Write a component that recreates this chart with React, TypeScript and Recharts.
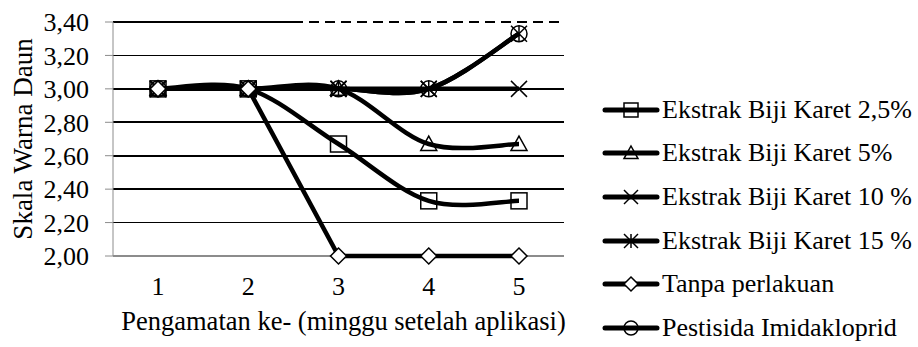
import React from 'react';
import { LineChart, Line, XAxis, YAxis, CartesianGrid } from 'recharts';

const weeks = ['1', '2', '3', '4', '5'];
const ekstrak25 = [3.0, 3.0, 2.67, 2.33, 2.33];
const ekstrak5 = [3.0, 3.0, 3.0, 2.67, 2.67];
const ekstrak10 = [3.0, 3.0, 3.0, 3.0, 3.0];
const ekstrak15 = [3.0, 3.0, 3.0, 3.0, 3.33];
const tanpa = [3.0, 3.0, 2.0, 2.0, 2.0];
const pestisida = [3.0, 3.0, 3.0, 3.0, 3.33];
const yTicks = [2.0, 2.2, 2.4, 2.6, 2.8, 3.0, 3.2, 3.4];

type MarkerKind = 'square' | 'triangle' | 'cross' | 'star' | 'diamond' | 'circle';

const seriesList: { key: string; name: string; marker: MarkerKind; smooth: boolean; values: number[] }[] = [
  { key: 'e25', name: 'Ekstrak Biji Karet 2,5%', marker: 'square', smooth: true, values: ekstrak25 },
  { key: 'e5', name: 'Ekstrak Biji Karet 5%', marker: 'triangle', smooth: true, values: ekstrak5 },
  { key: 'e10', name: 'Ekstrak Biji Karet 10 %', marker: 'cross', smooth: true, values: ekstrak10 },
  { key: 'e15', name: 'Ekstrak Biji Karet 15 %', marker: 'star', smooth: true, values: ekstrak15 },
  { key: 'tanpa', name: 'Tanpa perlakuan', marker: 'diamond', smooth: false, values: tanpa },
  { key: 'pest', name: 'Pestisida Imidakloprid', marker: 'circle', smooth: true, values: pestisida },
];

const data = weeks.map((week, i) => {
  const row: Record<string, string | number> = { week };
  seriesList.forEach(s => { row[s.key] = s.values[i]; });
  return row;
});

const FONT = '"Liberation Serif", "Times New Roman", serif';
const AXIS_GREY = '#8c8c8c';

// Catmull-Rom style smoothing (same feel as office "smoothed line")
const smoothCurve = (context: any) => {
  let pts: [number, number][] = [];
  return {
    areaStart() {},
    areaEnd() {},
    lineStart() { pts = []; },
    point(x: number, y: number) { pts.push([x, y]); },
    lineEnd() {
      if (!pts.length) return;
      context.moveTo(pts[0][0], pts[0][1]);
      for (let i = 0; i < pts.length - 1; i++) {
        const p0 = pts[i - 1] || pts[i];
        const p1 = pts[i];
        const p2 = pts[i + 1];
        const p3 = pts[i + 2] || p2;
        context.bezierCurveTo(
          p1[0] + (p2[0] - p0[0]) / 6, p1[1] + (p2[1] - p0[1]) / 6,
          p2[0] - (p3[0] - p1[0]) / 6, p2[1] - (p3[1] - p1[1]) / 6,
          p2[0], p2[1]
        );
      }
    },
  };
};

const Marker = ({ kind, cx, cy, r = 8 }: { kind: MarkerKind; cx: number; cy: number; r?: number }) => {
  const sw = 1.5;
  switch (kind) {
    case 'square':
      return <rect x={cx - r} y={cy - r} width={r * 2} height={r * 2} fill="none" stroke="#000" strokeWidth={sw} />;
    case 'triangle':
      return <polygon points={`${cx},${cy - r} ${cx + r},${cy + r * 0.8} ${cx - r},${cy + r * 0.8}`} fill="none" stroke="#000" strokeWidth={sw} />;
    case 'cross':
      return (
        <g stroke="#000" strokeWidth={sw}>
          <line x1={cx - r} y1={cy - r} x2={cx + r} y2={cy + r} />
          <line x1={cx - r} y1={cy + r} x2={cx + r} y2={cy - r} />
        </g>
      );
    case 'star':
      return (
        <g stroke="#000" strokeWidth={sw}>
          <line x1={cx - r} y1={cy - r} x2={cx + r} y2={cy + r} />
          <line x1={cx - r} y1={cy + r} x2={cx + r} y2={cy - r} />
          <line x1={cx} y1={cy - r} x2={cx} y2={cy + r} />
        </g>
      );
    case 'diamond':
      return <polygon points={`${cx},${cy - r} ${cx + r},${cy} ${cx},${cy + r} ${cx - r},${cy}`} fill="#fff" stroke="#000" strokeWidth={sw} />;
    case 'circle':
    default:
      return <circle cx={cx} cy={cy} r={r} fill="none" stroke="#000" strokeWidth={sw} />;
  }
};

const renderDot = (kind: MarkerKind) => (props: any) => (
  <g key={`dot-${kind}-${props.index}`}>
    <Marker kind={kind} cx={props.cx} cy={props.cy} />
  </g>
);

// horizontal grid: grey baseline (x axis sits under the series), top line turns dashed after 40%
const gridLine = (props: any) => {
  const { x1, x2, y1, y2, index } = props;
  const common = { strokeWidth: 1.6, shapeRendering: 'crispEdges' as const };
  if (Math.abs(y1 - (props.y + props.height)) < 1) {
    return <line key={`h-${index}`} x1={x1} y1={y1} x2={x2} y2={y2} stroke={AXIS_GREY} {...common} />;
  }
  if (Math.abs(y1 - props.y) < 1) {
    const split = x1 + (x2 - x1) * 0.4;
    return (
      <g key={`h-${index}`}>
        <line x1={x1} y1={y1} x2={split} y2={y2} stroke="#000" {...common} />
        <line x1={split} y1={y1} x2={x2} y2={y2} stroke="#000" strokeDasharray="10 6" {...common} />
      </g>
    );
  }
  return <line key={`h-${index}`} x1={x1} y1={y1} x2={x2} y2={y2} stroke="#000" {...common} />;
};

const LegendBox = () => (
  <div style={{ position: 'absolute', left: 602, top: 88, fontFamily: FONT, fontSize: 26, color: '#000' }}>
    {seriesList.map(s => (
      <div key={s.key} style={{ display: 'flex', alignItems: 'center', height: 43.6, whiteSpace: 'nowrap' }}>
        <svg width={58} height={24} style={{ marginRight: 2 }}>
          <line x1={3} y1={12} x2={55} y2={12} stroke="#000" strokeWidth={5} strokeLinecap="round" />
          <Marker kind={s.marker} cx={29} cy={12} r={7} />
        </svg>
        <span style={{ lineHeight: 1 }}>{s.name}</span>
      </div>
    ))}
  </div>
);

const fmt = (v: number) => v.toFixed(2).replace('.', ',');
const labelStyle = { fontSize: 26.5, fontFamily: FONT, fill: '#000' };

export default function App() {
  return (
    <div style={{ position: 'relative', width: 918, height: 347, background: '#fff' }}>
      <style>{'body{margin:0}'}</style>
      <LineChart width={918} height={347} data={data} margin={{ top: 22, right: 354, left: 0, bottom: 11 }}>
        <CartesianGrid horizontal={gridLine} vertical={false} />
        <XAxis
          dataKey="week"
          padding={{ left: 45, right: 45 }}
          axisLine={false}
          tickLine={false}
          tickSize={0}
          tickMargin={21}
          height={80}
          tick={{ fill: '#000', fontSize: 26, fontFamily: FONT }}
          label={{ value: 'Pengamatan ke- (minggu setelah aplikasi)', position: 'insideBottom', offset: 6, dx: 5, style: labelStyle }}
        />
        <YAxis
          width={113}
          domain={[2, 3.4]}
          ticks={yTicks}
          interval={0}
          tickFormatter={fmt}
          stroke={AXIS_GREY}
          tickSize={8}
          tickMargin={16}
          tick={{ fill: '#000', fontSize: 26, fontFamily: FONT }}
          label={{ value: 'Skala Warna Daun', angle: -90, position: 'insideLeft', offset: 22, style: { ...labelStyle, fontSize: 27, textAnchor: 'middle' } }}
        />
        {seriesList.map(s => (
          <Line
            key={s.key}
            dataKey={s.key}
            name={s.name}
            type={s.smooth ? (smoothCurve as any) : 'linear'}
            stroke="#000"
            strokeWidth={4.5}
            dot={renderDot(s.marker)}
            activeDot={false}
            isAnimationActive={false}
          />
        ))}
      </LineChart>
      <LegendBox />
    </div>
  );
}
